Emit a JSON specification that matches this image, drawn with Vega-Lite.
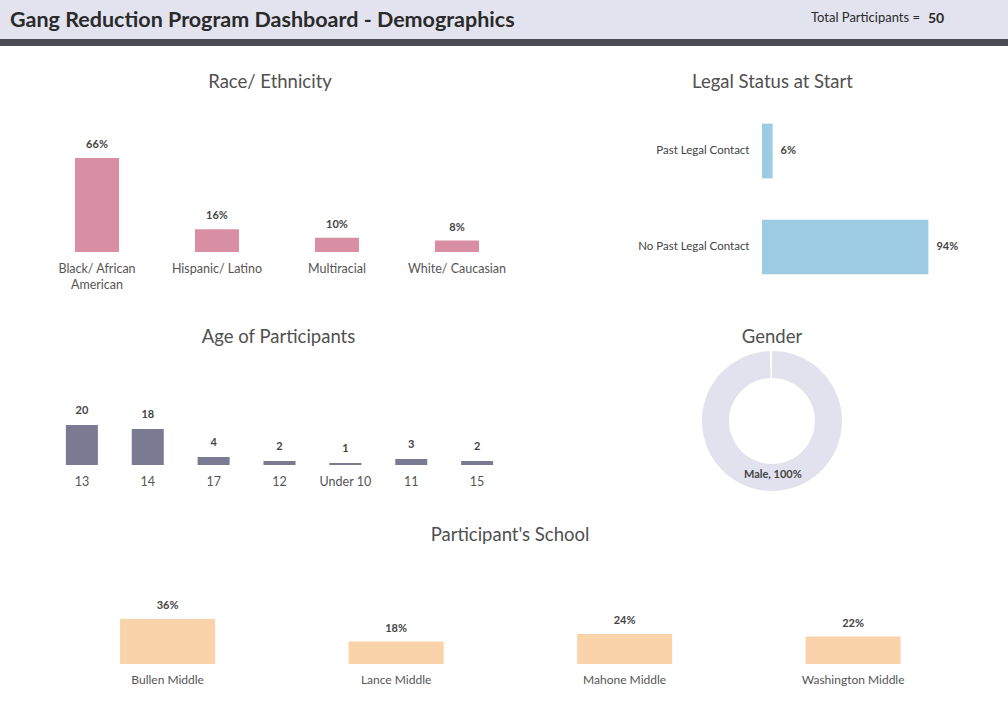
{
  "$schema": "https://vega.github.io/schema/vega-lite/v6.json",
  "background": "white",
  "padding": {"left": 0, "top": 0, "right": 0, "bottom": 12},
  "config": {
    "font": "Lato",
    "view": {"stroke": null},
    "axis": {"grid": false},
    "title": {"font": "Lato", "fontSize": 18.5, "fontWeight": "normal", "color": "#505050", "baseline": "alphabetic", "frame": "group"}
  },
  "spacing": 26,
  "vconcat": [
    {
      "spacing": 0,
      "vconcat": [
        {
          "spacing": 0,
          "bounds": "flush",
          "hconcat": [
            {
              "width": 800, "height": 39,
              "view": {"fill": "#e3e3ef", "stroke": null},
              "title": {"text": "Gang Reduction Program Dashboard - Demographics", "anchor": "start", "dx": 10, "offset": -31, "fontSize": 21.5, "fontWeight": "bold", "color": "#2a2a2a"},
              "data": {"values": [{}]},
              "mark": {"type": "text", "fontSize": 1},
              "encoding": {"text": {"value": ""}}
            },
            {
              "width": 120, "height": 39,
              "view": {"fill": "#e3e3ef", "stroke": null},
              "title": {"text": "Total Participants =", "anchor": "end", "offset": -25, "fontSize": 13, "color": "#2a2a2a"},
              "data": {"values": [{}]},
              "mark": {"type": "text", "fontSize": 1},
              "encoding": {"text": {"value": ""}}
            },
            {
              "width": 88, "height": 39,
              "view": {"fill": "#e3e3ef", "stroke": null},
              "title": {"text": "50", "anchor": "start", "dx": 8, "offset": -26, "fontSize": 14, "fontWeight": "bold", "color": "#2a2a2a"},
              "data": {"values": [{}]},
              "mark": {"type": "text", "fontSize": 1},
              "encoding": {"text": {"value": ""}}
            }
          ]
        },
        {
          "width": 1008, "height": 7,
          "view": {"fill": "#4b4b53", "stroke": null},
          "data": {"values": [{}]},
          "mark": {"type": "text", "fontSize": 1},
          "encoding": {"text": {"value": ""}}
        }
      ]
    },
    {
      "spacing": 32,
      "vconcat": [
        {
          "spacing": 208,
          "bounds": "flush",
          "hconcat": [
            {
              "width": 554, "height": 149,
              "title": {"text": "Race/ Ethnicity", "dx": -7, "offset": 12},
              "data": {"values": [
                {"race": "Black/ African American", "share": 0.66},
                {"race": "Hispanic/ Latino", "share": 0.16},
                {"race": "Multiracial", "share": 0.10},
                {"race": "White/ Caucasian", "share": 0.08}
              ]},
              "encoding": {
                "x": {"field": "race", "type": "nominal", "sort": null,
                  "scale": {"paddingInner": 0.633, "paddingOuter": 0.625},
                  "axis": {"title": null, "domain": false, "ticks": false, "labelAngle": 0, "labelPadding": 10, "labelFontSize": 12.5, "labelColor": "#555555", "labelLineHeight": 16,
                    "labelExpr": "datum.value == 'Black/ African American' ? ['Black/ African', 'American'] : datum.label"}},
                "y": {"field": "share", "type": "quantitative", "scale": {"domain": [0, 1.0456]}, "axis": null}
              },
              "layer": [
                {"mark": {"type": "bar", "color": "#d98fa3"}},
                {"mark": {"type": "text", "baseline": "bottom", "dy": -8, "fontSize": 11, "fontWeight": "bold", "color": "#444444"},
                 "encoding": {"text": {"field": "share", "type": "quantitative", "format": ".0%"}}}
              ]
            },
            {
              "width": 177, "height": 192,
              "title": {"text": "Legal Status at Start", "dx": -78, "offset": 12},
              "data": {"values": [
                {"status": "Past Legal Contact", "share": 0.06},
                {"status": "No Past Legal Contact", "share": 0.94}
              ]},
              "encoding": {
                "y": {"field": "status", "type": "nominal", "sort": null,
                  "scale": {"paddingInner": 0.43, "paddingOuter": 0.215},
                  "axis": {"title": null, "domain": false, "ticks": false, "labelPadding": 13, "labelFontSize": 11.5, "labelColor": "#444444"}},
                "x": {"field": "share", "type": "quantitative", "scale": {"domain": [0, 1]}, "axis": null}
              },
              "layer": [
                {"mark": {"type": "bar", "color": "#9ccbe3"}},
                {"mark": {"type": "text", "align": "left", "baseline": "middle", "dx": 8, "fontSize": 11, "fontWeight": "bold", "color": "#444444"},
                 "encoding": {"text": {"field": "share", "type": "quantitative", "format": ".0%"}}}
              ]
            }
          ]
        },
        {
          "spacing": 32,
          "vconcat": [
            {
              "spacing": 141,
              "bounds": "flush",
              "hconcat": [
                {
                  "width": 559, "height": 116,
                  "title": {"text": "Age of Participants", "dx": -1, "offset": 3},
                  "data": {"values": [
                    {"age": "13", "count": 20},
                    {"age": "14", "count": 18},
                    {"age": "17", "count": 4},
                    {"age": "12", "count": 2},
                    {"age": "Under 10", "count": 1},
                    {"age": "11", "count": 3},
                    {"age": "15", "count": 2}
                  ]},
                  "encoding": {
                    "x": {"field": "age", "type": "nominal", "sort": null,
                      "scale": {"paddingInner": 0.514, "paddingOuter": 1.0},
                      "axis": {"title": null, "domain": false, "ticks": false, "labelAngle": 0, "labelPadding": 10, "labelFontSize": 12.5, "labelColor": "#555555"}},
                    "y": {"field": "count", "type": "quantitative", "scale": {"domain": [0, 58]}, "axis": null}
                  },
                  "layer": [
                    {"mark": {"type": "bar", "color": "#7a7a92"}},
                    {"mark": {"type": "text", "baseline": "bottom", "dy": -9, "fontSize": 11, "fontWeight": "bold", "color": "#444444"},
                     "encoding": {"text": {"field": "count", "type": "quantitative"}}}
                  ]
                },
                {
                  "width": 144, "height": 144,
                  "title": {"text": "Gender", "offset": 3},
                  "data": {"values": [{"gender": "Male", "share": 1}]},
                  "transform": [{"calculate": "datum.gender + ', ' + format(datum.share, '.0%')", "as": "label"}],
                  "encoding": {
                    "theta": {"field": "share", "type": "quantitative", "stack": true, "scale": {"domain": [0, 1.005]}}
                  },
                  "layer": [
                    {"mark": {"type": "arc", "outerRadius": 70, "innerRadius": 43, "color": "#e2e2ee"}},
                    {"mark": {"type": "text", "radius": 54, "fontSize": 11, "fontWeight": "bold", "color": "#444444"},
                     "encoding": {"text": {"field": "label", "type": "nominal"}}}
                  ]
                }
              ]
            },
            {
              "width": 1008, "height": 108,
              "title": {"text": "Participant's School", "dx": 6, "offset": 12},
              "data": {"values": [
                {"school": "Bullen Middle", "share": 0.36},
                {"school": "Lance Middle", "share": 0.18},
                {"school": "Mahone Middle", "share": 0.24},
                {"school": "Washington Middle", "share": 0.22}
              ]},
              "encoding": {
                "x": {"field": "school", "type": "nominal", "sort": null,
                  "scale": {"paddingInner": 0.584, "paddingOuter": 0.4977, "align": 0.528},
                  "axis": {"title": null, "domain": false, "ticks": false, "labelAngle": 0, "labelPadding": 10, "labelFontSize": 12, "labelColor": "#555555"}},
                "y": {"field": "share", "type": "quantitative", "scale": {"domain": [0, 0.864]}, "axis": null}
              },
              "layer": [
                {"mark": {"type": "bar", "color": "#fbd3aa"}},
                {"mark": {"type": "text", "baseline": "bottom", "dy": -8, "fontSize": 11, "fontWeight": "bold", "color": "#444444"},
                 "encoding": {"text": {"field": "share", "type": "quantitative", "format": ".0%"}}}
              ]
            }
          ]
        }
      ]
    }
  ]
}
